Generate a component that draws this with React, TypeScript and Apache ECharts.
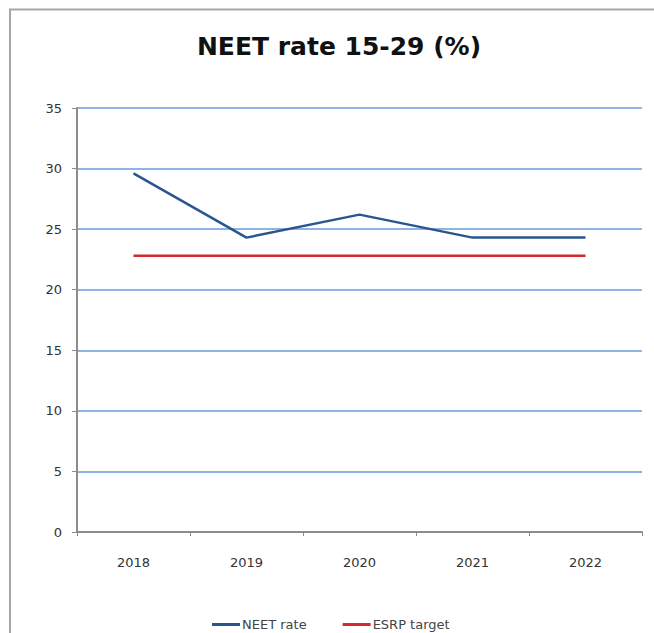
import React, { useEffect, useRef } from "react";
import * as echarts from "echarts";

const years = ["2018", "2019", "2020", "2021", "2022"];
const neetRate = [29.6, 24.3, 26.2, 24.3, 24.3];
const esrpTarget = [22.8, 22.8, 22.8, 22.8, 22.8];
const yMin = 0;
const yMax = 35;
const yStep = 5;

export default function App() {
  const ref = useRef<HTMLDivElement>(null);

  useEffect(() => {
    document.body.style.margin = "0";
    if (!ref.current) return;
    const chart = echarts.init(ref.current, undefined, { renderer: "svg" });
    chart.setOption({
      animation: false,
      backgroundColor: "#ffffff",
      title: {
        text: "NEET rate 15-29 (%)",
        left: 334,
        textAlign: "center",
        top: 29,
        textStyle: {
          fontFamily: "DejaVu Sans",
          fontWeight: "bold",
          fontSize: 25,
          color: "#111111",
        },
      },
      graphic: [
        {
          type: "polyline",
          shape: { points: [[10, 633], [10, 9.5], [654, 9.5]] },
          style: { stroke: "#a6a6a6", lineWidth: 2, fill: "none" },
          silent: true,
        },
      ],
      grid: { left: 77, right: 12, top: 108, bottom: 101, containLabel: false },
      legend: {
        top: 613,
        left: 207,
        itemWidth: 28,
        itemHeight: 3,
        itemGap: 36,
        icon: "rect",
        textStyle: { fontFamily: "DejaVu Sans", fontSize: 13, color: "#444444", padding: [0, 0, 0, -3] },
        data: ["NEET rate", "ESRP target"],
      },
      xAxis: {
        type: "category",
        data: years,
        boundaryGap: true,
        axisLine: { lineStyle: { color: "#8c8c8c", width: 2 } },
        axisTick: { show: true, length: 4, lineStyle: { color: "#8c8c8c", width: 1 } },
        axisLabel: {
          margin: 24,
          fontFamily: "DejaVu Sans",
          fontSize: 13,
          color: "#333333",
        },
      },
      yAxis: {
        type: "value",
        min: yMin,
        max: yMax,
        interval: yStep,
        axisLine: { show: true, lineStyle: { color: "#8c8c8c", width: 2 } },
        axisTick: { show: true, length: 5, lineStyle: { color: "#8c8c8c", width: 1 } },
        axisLabel: {
          margin: 15,
          fontFamily: "DejaVu Sans",
          fontSize: 13,
          color: "#333333",
        },
        splitLine: { show: true, lineStyle: { color: "#8db4e2", width: 2 } },
      },
      series: [
        {
          name: "NEET rate",
          type: "line",
          data: neetRate,
          showSymbol: false,
          symbol: "none",
          itemStyle: { color: "#2b5590" },
          lineStyle: { color: "#2b5590", width: 2.5 },
          z: 3,
        },
        {
          name: "ESRP target",
          type: "line",
          data: esrpTarget,
          showSymbol: false,
          symbol: "none",
          itemStyle: { color: "#d42a2a" },
          lineStyle: { color: "#d42a2a", width: 2.5 },
          z: 2,
        },
      ],
    });
    return () => chart.dispose();
  }, []);

  return <div ref={ref} style={{ width: 654, height: 633 }} />;
}
